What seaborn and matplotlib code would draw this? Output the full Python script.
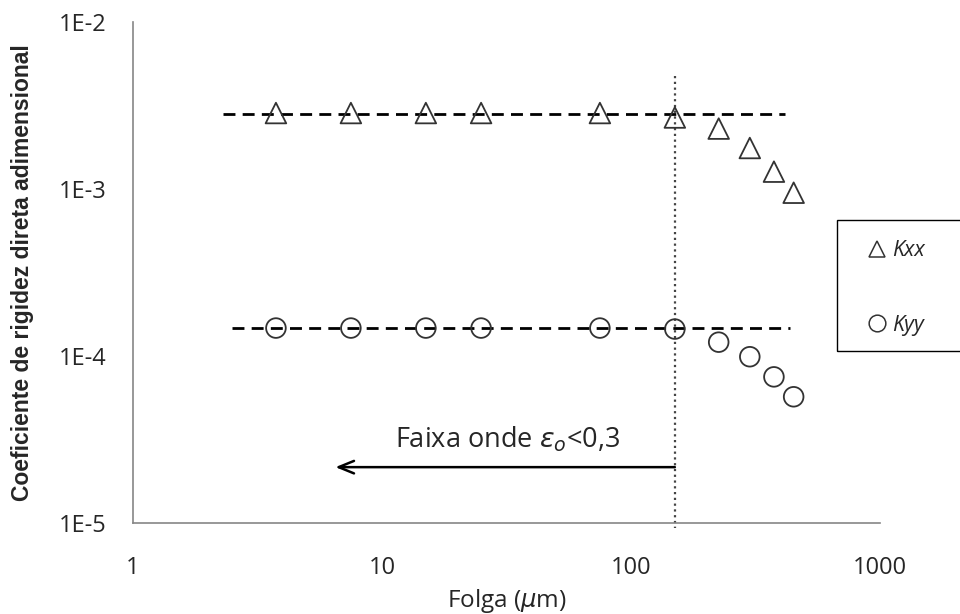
import numpy as np
import pandas as pd
import matplotlib
matplotlib.use("Agg")
import matplotlib.pyplot as plt
from matplotlib.lines import Line2D
from matplotlib.patches import Rectangle
import seaborn as sns

# ---- data ----
folga = [3.75, 7.5, 15, 25, 75, 150, 225, 300, 375, 450]
kxx = [2.85e-3, 2.85e-3, 2.85e-3, 2.85e-3, 2.85e-3, 2.68e-3, 2.3e-3, 1.76e-3, 1.27e-3, 9.5e-4]
kyy = [1.47e-4, 1.47e-4, 1.47e-4, 1.47e-4, 1.47e-4, 1.45e-4, 1.21e-4, 9.9e-5, 7.5e-5, 5.7e-5]
kxx_ref_x = [2.3, 415]
kxx_ref_y = [2.8e-3, 2.8e-3]
kyy_ref_x = [2.5, 435]
kyy_ref_y = [1.47e-4, 1.47e-4]
limite_x = 150
x_ticks = [1, 10, 100, 1000]
x_ticklabels = ["1", "10", "100", "1000"]
y_ticks = [1e-5, 1e-4, 1e-3, 1e-2]
y_ticklabels = ["1E-5", "1E-4", "1E-3", "1E-2"]

sns.set_style("white")
plt.rcParams["font.family"] = ["Liberation Sans", "DejaVu Sans"]
LABEL_FONT = ["Open Sans", "DejaVu Sans"]

fig = plt.figure(figsize=(9.6, 6.14), dpi=100)
ax = fig.add_axes([133/960, 1-523/614, (880-133)/960, (523-22)/614])

df = pd.DataFrame({"folga": folga, "kxx": kxx, "kyy": kyy})

# reference dashed lines
sns.lineplot(x=kxx_ref_x, y=kxx_ref_y, ax=ax, color="black", lw=2.0,
             linestyle=(0, (4.3, 2.6)), zorder=2)
sns.lineplot(x=kyy_ref_x, y=kyy_ref_y, ax=ax, color="black", lw=2.0,
             linestyle=(0, (4.3, 2.6)), zorder=2)

# data markers
sns.scatterplot(data=df, x="folga", y="kxx", ax=ax, marker="^", s=220,
                facecolor="none", edgecolor="#333333", linewidth=1.3, zorder=3)
sns.scatterplot(data=df, x="folga", y="kyy", ax=ax, marker="o", s=200,
                facecolor="none", edgecolor="#333333", linewidth=1.3, zorder=3)

ax.set_xscale("log")
ax.set_yscale("log")
ax.set_xlim(1, 1000)
ax.set_ylim(1e-5, 1e-2)

# vertical dotted line
ax.plot([limite_x, limite_x], [4.75e-3, 9.3e-6], color="#444444", lw=1.6,
        linestyle=(0, (1, 1.6)), clip_on=False, zorder=2)

# arrow
ax.annotate("", xy=(6.5, 2.16e-5), xytext=(limite_x, 2.16e-5),
            arrowprops=dict(arrowstyle="->,head_length=1.1,head_width=0.45",
                            color="black", lw=1.8, shrinkA=0, shrinkB=0))
ax.text(11.3, 3.14e-5, r"Faixa onde $\varepsilon_o$<0,3", fontsize=19.5,
        ha="left", va="center", family=LABEL_FONT)

# ticks
ax.set_xticks(x_ticks)
ax.set_xticklabels(x_ticklabels)
ax.set_yticks(y_ticks)
ax.set_yticklabels(y_ticklabels)
ax.yaxis.set_minor_locator(matplotlib.ticker.NullLocator())
ax.xaxis.set_minor_locator(matplotlib.ticker.LogLocator(base=10, subs=np.arange(2, 10)))
ax.xaxis.set_minor_formatter(matplotlib.ticker.NullFormatter())
ax.tick_params(axis="x", which="major", direction="out", length=7, width=1,
               color="#868686", pad=17, labelsize=17)
ax.tick_params(axis="x", which="minor", direction="in", length=4, width=1,
               color="#868686")
ax.tick_params(axis="y", which="major", direction="out", length=6, width=1,
               color="#868686", pad=13, labelsize=17)
for lab in ax.get_xticklabels() + ax.get_yticklabels():
    lab.set_family(LABEL_FONT)

for s in ["top", "right"]:
    ax.spines[s].set_visible(False)
for s in ["left", "bottom"]:
    ax.spines[s].set_color("#868686")
    ax.spines[s].set_linewidth(1.2)

ax.set_xlabel(r"Folga ($\mu$m)", fontsize=17.5, family=LABEL_FONT)
ax.set_ylabel("Coeficiente de rigidez direta adimensional", fontsize=16.5,
              fontweight="bold")
ax.xaxis.set_label_coords(0.5, -0.128)
ax.yaxis.set_label_coords(-0.133, 0.5)

# legend
fig.patches.append(Rectangle((837/960, 1-351/614), 0.2, 131/614,
                             transform=fig.transFigure, fill=False,
                             edgecolor="black", lw=1.0))
handles = [Line2D([], [], marker="^", ls="", mfc="none", mec="#333333", ms=12, mew=1.1),
           Line2D([], [], marker="o", ls="", mfc="none", mec="#333333", ms=12, mew=1.1)]
leg = fig.legend(handles, ["Kxx", "Kyy"], loc="center left",
                 bbox_to_anchor=(866/960, 1-288/614), frameon=False,
                 borderpad=0, borderaxespad=0,
                 handlelength=1.0, handletextpad=0.2, labelspacing=2.5,
                 prop={"family": LABEL_FONT, "style": "italic", "size": 15.5})

fig.savefig("out.png", dpi=100)
